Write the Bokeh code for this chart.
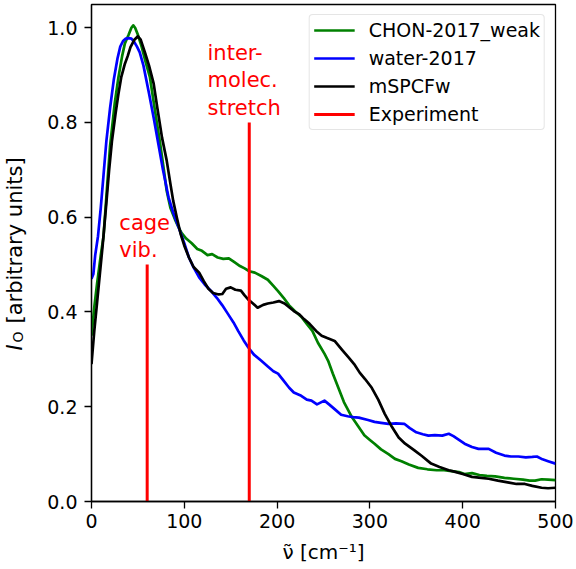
from bokeh.plotting import figure
from bokeh.layouts import row
from bokeh.models import Range1d, FixedTicker, NumeralTickFormatter, Label
from bokeh.core.properties import value
from bokeh.embed import file_html
from bokeh.resources import INLINE
import math

FONT = "DejaVu Sans"

# ---- data ----
chon_x = [0, 3, 6, 10, 13, 17, 20, 25, 29, 33, 36, 40, 43, 45, 47, 50, 54, 58, 63, 68, 74, 78, 81, 85,
          90, 94, 97, 102, 108, 114, 119, 125, 130, 136, 142, 148, 154, 160, 165, 170, 176, 183, 190,
          196, 201, 207, 213, 219, 226, 232, 238, 244, 251, 255, 260, 266, 272, 280, 287, 294, 300, 305,
          312, 320, 327, 334, 342, 352, 362, 372, 380, 388, 396, 402, 410, 418, 426, 435, 445, 455, 465,
          472, 478, 485, 492, 500]
chon_y = [0.35, 0.41, 0.46, 0.52, 0.56, 0.67, 0.75, 0.84, 0.895, 0.94, 0.967, 0.985, 1.0, 1.005, 1.0,
          0.985, 0.96, 0.93, 0.895, 0.83, 0.755, 0.70, 0.656, 0.62, 0.595, 0.578, 0.567, 0.555, 0.545,
          0.533, 0.529, 0.52, 0.522, 0.515, 0.512, 0.513, 0.505, 0.497, 0.492, 0.486, 0.483, 0.476, 0.468,
          0.455, 0.444, 0.43, 0.414, 0.402, 0.39, 0.375, 0.36, 0.335, 0.312, 0.297, 0.27, 0.24, 0.21,
          0.18, 0.16, 0.14, 0.13, 0.122, 0.11, 0.10, 0.09, 0.085, 0.078, 0.071, 0.068, 0.066, 0.066,
          0.064, 0.062, 0.058, 0.06, 0.056, 0.054, 0.053, 0.05, 0.048, 0.046, 0.044, 0.044, 0.047, 0.046,
          0.045]

water_x = [0, 2, 4, 7, 10, 13, 16, 20, 24, 28, 31, 34, 37, 40, 43, 46, 49, 52, 56, 62, 67, 72, 77, 83,
           88, 94, 100, 105, 110, 116, 122, 129, 135, 141, 147, 153, 158, 164, 169, 175, 183, 190, 196,
           201, 207, 213, 218, 226, 232, 237, 243, 251, 256, 262, 269, 276, 282, 288, 298, 305, 312, 320,
           328, 337, 343, 350, 357, 363, 370, 378, 385, 390, 396, 402, 410, 417, 422, 428, 436, 445, 452,
           460, 468, 475, 480, 486, 492, 500]
water_y = [0.47, 0.48, 0.52, 0.56, 0.62, 0.69, 0.76, 0.83, 0.89, 0.935, 0.96, 0.972, 0.977, 0.978,
           0.977, 0.97, 0.96, 0.948, 0.92, 0.861, 0.81, 0.755, 0.70, 0.642, 0.61, 0.578, 0.545, 0.515,
           0.494, 0.473, 0.458, 0.444, 0.43, 0.414, 0.396, 0.378, 0.36, 0.34, 0.325, 0.31, 0.297, 0.285,
           0.275, 0.27, 0.255, 0.24, 0.23, 0.223, 0.215, 0.213, 0.205, 0.213, 0.205, 0.195, 0.183, 0.18,
           0.178, 0.177, 0.172, 0.168, 0.166, 0.164, 0.165, 0.164, 0.155, 0.146, 0.142, 0.139, 0.14,
           0.139, 0.143, 0.138, 0.13, 0.122, 0.115, 0.111, 0.111, 0.111, 0.103, 0.097, 0.095, 0.095,
           0.093, 0.094, 0.095, 0.089, 0.085, 0.080]

mspc_x = [0, 3, 6, 9, 12, 16, 19, 22, 26, 29, 32, 36, 39, 42, 46, 50, 53, 58, 62, 67, 71, 76, 81, 85,
          88, 92, 96, 100, 105, 110, 116, 121, 126, 131, 137, 141, 145, 150, 155, 161, 165, 169, 174,
          179, 185, 190, 196, 202, 208, 213, 218, 224, 229, 235, 242, 248, 254, 262, 270, 277, 283, 289,
          295, 302, 309, 316, 323, 331, 338, 348, 356, 366, 375, 385, 391, 400, 410, 420, 428, 438, 450,
          458, 467, 475, 485, 492, 500]
mspc_y = [0.29, 0.36, 0.42, 0.48, 0.54, 0.63, 0.70, 0.76, 0.82, 0.86, 0.895, 0.924, 0.94, 0.959,
          0.974, 0.982, 0.975, 0.945, 0.92, 0.882, 0.83, 0.768, 0.72, 0.671, 0.635, 0.599, 0.565, 0.54,
          0.515, 0.495, 0.483, 0.465, 0.449, 0.44, 0.437, 0.438, 0.449, 0.452, 0.447, 0.445, 0.435,
          0.426, 0.418, 0.409, 0.415, 0.418, 0.42, 0.423, 0.418, 0.41, 0.402, 0.395, 0.385, 0.375, 0.36,
          0.35, 0.345, 0.339, 0.32, 0.304, 0.29, 0.272, 0.258, 0.24, 0.215, 0.185, 0.16, 0.135, 0.122,
          0.108, 0.096, 0.08, 0.073, 0.066, 0.063, 0.058, 0.052, 0.05, 0.048, 0.044, 0.04, 0.037, 0.037,
          0.033, 0.029, 0.028, 0.029]

exp_x = [60, 170]
exp_top = [0.5, 0.8]
exp_names = ["cage\nvib.", "inter-\nmolec.\nstretch"]

x_ticks = [0, 100, 200, 300, 400, 500]
y_ticks = [0.0, 0.2, 0.4, 0.6, 0.8, 1.0]

# ---- narrow strip holding the y-axis title (italic I, subscript O) ----
LW = 40
lab = figure(width=LW, height=569, output_backend="svg", toolbar_location=None,
             x_range=Range1d(0, LW), y_range=Range1d(0, 569),
             x_axis_location=None, y_axis_location=None,
             min_border_left=0, min_border_right=0, min_border_top=0, min_border_bottom=0)
lab.grid.visible = False
lab.outline_line_color = None
lab.background_fill_color = "white"
lab.border_fill_color = "white"
half = math.pi / 2
lab.add_layout(Label(x=14, y=151, x_units="screen", y_units="screen", text="I", angle=half,
                     text_font=FONT, text_font_size="21px", text_font_style="italic",
                     text_color="black", text_baseline="alphabetic", text_align="left"))
lab.add_layout(Label(x=17, y=159, x_units="screen", y_units="screen", text="O", angle=half,
                     text_font=FONT, text_font_size="14px", text_color="black",
                     text_baseline="alphabetic", text_align="left"))
lab.add_layout(Label(x=14, y=178, x_units="screen", y_units="screen", text="[arbitrary units]",
                     angle=half, text_font=FONT, text_font_size="21px", text_color="black",
                     text_baseline="alphabetic", text_align="left"))

# ---- main chart ----
p = figure(width=576 - LW, height=569, output_backend="svg", toolbar_location=None,
           x_range=Range1d(0, 500), y_range=Range1d(0, 1.049),
           min_border_left=91 - LW, min_border_right=21, min_border_top=4, min_border_bottom=68)
p.xgrid.visible = False
p.ygrid.visible = False
p.outline_line_color = "black"
p.outline_line_width = 1.3
p.background_fill_color = "white"
p.border_fill_color = "white"

lw = 2.7
p.line(chon_x, chon_y, color="green", line_width=lw, legend_label="CHON-2017_weak", line_join="round")
p.line(water_x, water_y, color="blue", line_width=lw, legend_label="water-2017", line_join="round")
p.line(mspc_x, mspc_y, color="black", line_width=lw, legend_label="mSPCFw", line_join="round")
p.segment(x0=exp_x, y0=[0, 0], x1=exp_x, y1=exp_top, color="red", line_width=3, legend_label="Experiment")

p.text(x=[exp_x[0] - 30, exp_x[1] - 45], y=[0.505, 0.805], text=exp_names, text_color="red",
       text_font=value(FONT), text_font_size="21px", text_align="left", text_baseline="bottom",
       text_line_height=1.15)

for ax in (p.xaxis[0], p.yaxis[0]):
    ax.axis_line_color = "black"
    ax.axis_line_width = 1.3
    ax.major_tick_line_color = "black"
    ax.major_tick_line_width = 1.3
    ax.major_tick_out = 7
    ax.major_tick_in = 0
    ax.minor_tick_out = 0
    ax.minor_tick_in = 0
    ax.major_label_text_font = FONT
    ax.major_label_text_font_size = "19px"
    ax.major_label_text_color = "black"
    ax.axis_label_text_font = FONT
    ax.axis_label_text_font_size = "20px"
    ax.axis_label_text_font_style = "normal"
    ax.axis_label_text_color = "black"

p.xaxis[0].ticker = FixedTicker(ticks=x_ticks)
p.yaxis[0].ticker = FixedTicker(ticks=y_ticks)
p.yaxis[0].formatter = NumeralTickFormatter(format="0.0")
p.xaxis[0].major_label_standoff = 5
p.yaxis[0].major_label_standoff = 7
p.xaxis[0].axis_label = "\u03bd\u0303 [cm\u207b\u00b9]"
p.xaxis[0].axis_label_standoff = 9

lg = p.legend[0]
lg.location = "top_right"
lg.margin = 10
lg.padding = 4
lg.spacing = 6
lg.glyph_width = 41
lg.glyph_height = 20
lg.label_height = 20
lg.label_standoff = 14
lg.label_text_font = FONT
lg.label_text_font_size = "19px"
lg.label_text_color = "black"
lg.border_line_color = "#cccccc"
lg.border_line_width = 1
lg.background_fill_alpha = 0.8
try:
    lg.border_radius = 4
except Exception:
    pass

layout = row(lab, p, spacing=0)
open("out.html", "w").write(file_html(layout, INLINE))
